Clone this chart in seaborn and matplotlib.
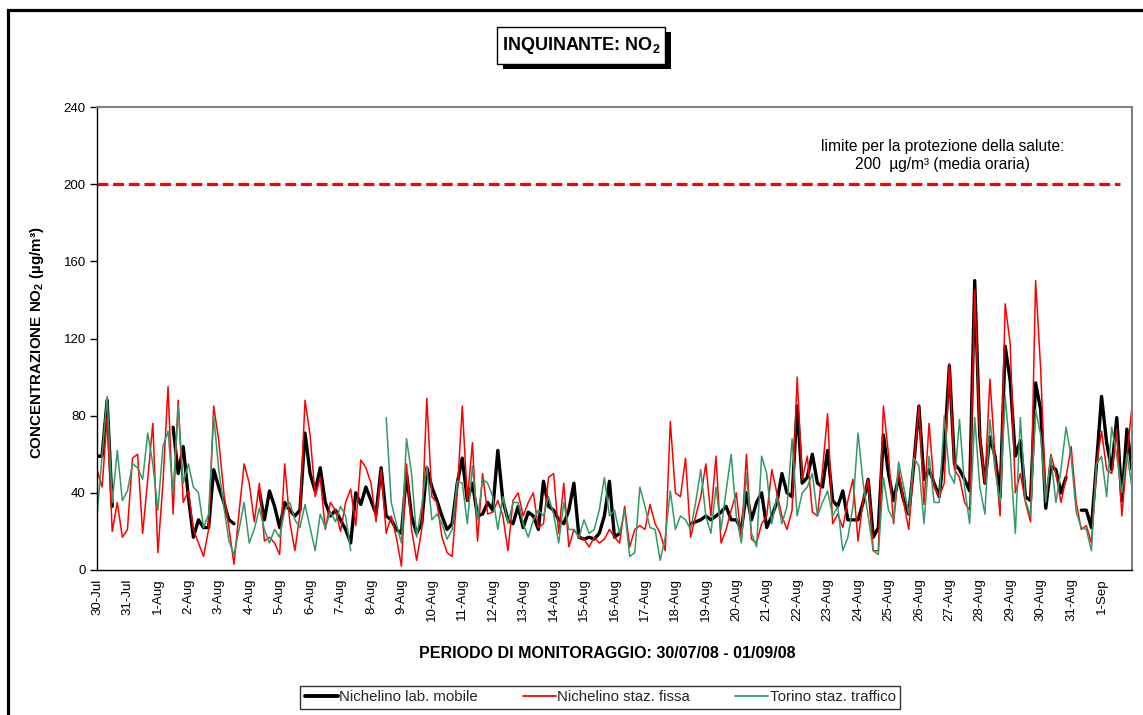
import numpy as np
import pandas as pd
import matplotlib
matplotlib.use("Agg")
import matplotlib.pyplot as plt
from matplotlib.lines import Line2D
from matplotlib.patches import Rectangle
import seaborn as sns

nan = np.nan

# ---------------------------------------------------------------------------
# data: NO2 hourly concentrations, every 4 hours
# (one row = one day, 00-04-08-12-16-20 h), nan = no data
# ---------------------------------------------------------------------------
day_labels = ["30-Jul", "31-Jul", "1-Aug", "2-Aug", "3-Aug", "4-Aug", "5-Aug",
              "6-Aug", "7-Aug", "8-Aug", "9-Aug", "10-Aug", "11-Aug", "12-Aug",
              "13-Aug", "14-Aug", "15-Aug", "16-Aug", "17-Aug", "18-Aug",
              "19-Aug", "20-Aug", "21-Aug", "22-Aug", "23-Aug", "24-Aug",
              "25-Aug", "26-Aug", "27-Aug", "28-Aug", "29-Aug", "30-Aug",
              "31-Aug", "1-Sep"]
step_hours = 4

lab_mobile = [
    59, 59, 88, 33, nan, nan,
    nan, nan, nan, nan, nan, nan,
    nan, nan, nan, 74, 50, 64,
    38, 17, 26, 22, 22, 52,
    43, 35, 26, 24, nan, nan,
    nan, nan, 41, 26, 41, 33,
    22, 35, 31, 28, 31, 71,
    50, 41, 53, 35, 28, 31,
    26, 21, 14, 40, 34, 43,
    36, 29, 53, 28, 26, 21,
    19, 50, 28, 19, 24, 53,
    43, 36, 28, 21, 24, 45,
    58, 36, 45, 28, 29, 35,
    31, 62, 36, 26, 24, 33,
    22, 30, 28, 21, 46, 33,
    31, 26, 24, 31, 45, 17,
    16, 17, 16, 19, 28, 46,
    17, 19, nan, nan, nan, nan,
    nan, nan, nan, nan, nan, nan,
    nan, nan, nan, 24, 25, 26,
    28, 26, 28, 30, 33, 26,
    26, 21, 40, 26, 35, 40,
    22, 28, 35, 50, 40, 38,
    85, 45, 48, 60, 45, 43,
    62, 36, 33, 41, 26, 26,
    26, 35, 47, 17, 22, 70,
    50, 36, 48, 36, 29, 55,
    85, 47, 52, 45, 38, 62,
    106, 55, 52, 47, 41, 150,
    69, 45, 69, 59, 38, 116,
    98, 59, 67, 38, 36, 97,
    83, 32, 54, 52, 40, 48,
    nan, nan, 31, 31, 22, 55,
    90, 66, 52, 79, 36, 73,
    52,
]

staz_fissa = [
    52, 43, 79, 20, 35, 17,
    21, 58, 60, 19, 47, 76,
    9, 45, 95, 29, 88, 35,
    41, 21, 14, 7, 21, 85,
    67, 40, 22, 3, 30, 55,
    45, 25, 45, 15, 17, 14,
    8, 55, 25, 10, 29, 88,
    70, 38, 48, 21, 35, 31,
    20, 35, 42, 23, 57, 53,
    45, 25, 52, 19, 28, 17,
    2, 55, 21, 5, 21, 89,
    38, 35, 17, 9, 7, 40,
    85, 36, 66, 15, 50, 29,
    30, 36, 28, 10, 36, 40,
    28, 35, 40, 22, 24, 48,
    50, 19, 45, 12, 21, 17,
    16, 12, 17, 14, 16, 21,
    17, 14, 33, 12, 21, 23,
    21, 34, 24, 19, 10, 77,
    40, 38, 58, 17, 28, 38,
    55, 28, 59, 14, 21, 31,
    40, 16, 60, 16, 14, 24,
    28, 52, 40, 28, 21, 31,
    100, 47, 59, 30, 28, 52,
    81, 24, 29, 22, 36, 47,
    15, 36, 47, 10, 10, 85,
    60, 24, 52, 35, 21, 55,
    85, 34, 76, 43, 38, 45,
    107, 52, 48, 35, 31, 145,
    69, 45, 99, 59, 28, 138,
    117, 40, 50, 35, 25, 150,
    104, 36, 60, 50, 35, 48,
    64, 35, 21, 23, 14, 55,
    72, 52, 50, 73, 28, 59,
    85,
]

torino_traffico = [
    28, 59, 90, 35, 62, 36,
    41, 55, 53, 47, 71, 55,
    31, 64, 72, 40, 85, 45,
    55, 43, 40, 22, 29, 80,
    52, 33, 15, 8, 21, 35,
    14, 21, 32, 21, 14, 21,
    17, 31, 35, 26, 22, 34,
    22, 10, 29, 22, 30, 25,
    33, 28, 10, nan, nan, nan,
    nan, nan, nan, 79, 35, 24,
    14, 68, 50, 17, 33, 54,
    26, 29, 24, 16, 21, 46,
    45, 24, 54, 26, 47, 45,
    38, 21, 38, 24, 35, 35,
    24, 17, 26, 31, 28, 38,
    29, 14, 35, 21, 21, 17,
    26, 19, 21, 31, 48, 28,
    31, 19, 31, 7, 9, 43,
    33, 22, 21, 5, 17, 41,
    21, 28, 26, 21, 35, 52,
    28, 19, 43, 21, 41, 60,
    28, 14, 50, 19, 12, 59,
    50, 24, 38, 24, 33, 68,
    28, 40, 43, 50, 28, 35,
    41, 28, 33, 10, 17, 33,
    71, 45, 28, 10, 8, 48,
    31, 26, 56, 43, 29, 58,
    54, 24, 59, 35, 35, 80,
    50, 45, 78, 43, 24, 79,
    43, 29, 78, 52, 35, 90,
    60, 19, 79, 36, 28, 83,
    70, 35, 59, 35, 52, 74,
    59, 30, 22, 21, 10, 55,
    59, 38, 74, 59, 40, 60,
    43,
]

series_names = ["Nichelino lab. mobile", "Nichelino staz. fissa", "Torino staz. traffico"]
series_values = [lab_mobile, staz_fissa, torino_traffico]
limit_value = 200

colors = {series_names[0]: "black", series_names[1]: "#FF0000", series_names[2]: "#339966"}
widths = {series_names[0]: 2.4, series_names[1]: 1.1, series_names[2]: 1.1}

# long table, gaps split into separate units so lines break at missing data
frames = []
for name, vals in zip(series_names, series_values):
    v = np.array(vals, dtype=float)
    d = pd.DataFrame({"day": np.arange(len(v)) * step_hours / 24.0,
                      "value": v,
                      "seg": np.cumsum(np.isnan(v)),
                      "series": name})
    frames.append(d.dropna(subset=["value"]))
df = pd.concat(frames, ignore_index=True)

# ---------------------------------------------------------------------------
sns.set_theme(style="white")
plt.rcParams["font.family"] = ["Liberation Sans", "DejaVu Sans"]
plt.rcParams["mathtext.fontset"] = "custom"
plt.rcParams["mathtext.rm"] = "Liberation Sans"
plt.rcParams["mathtext.bf"] = "Liberation Sans:bold"
plt.rcParams["mathtext.it"] = "Liberation Sans:italic"

W, H = 1143, 715
fig = plt.figure(figsize=(W / 100, H / 100), dpi=100)
fig.patch.set_facecolor("white")

ax = fig.add_axes([97 / W, 1 - 570 / H, (1132 - 97) / W, (570 - 107) / H])

sns.lineplot(data=df, x="day", y="value", hue="series", size="series",
             hue_order=series_names, size_order=series_names,
             palette=colors, sizes=widths, units="seg", estimator=None,
             legend=False, ax=ax)

# health limit line
ax.axhline(limit_value, xmin=0, xmax=(1120 - 97) / (1132 - 97), color="#FF0000",
           lw=2.3, ls=(0, (3.4, 1.5)), zorder=1)
ax.text(0.817, 0.895,
        "limite per la protezione della salute:\n200  µg/m³ (media oraria)",
        transform=ax.transAxes, ha="center", va="center", fontsize=11.2,
        linespacing=1.2, color="black")

ax.set_xlim(0, 34)
ax.set_ylim(0, 240)
ax.set_yticks(np.arange(0, 241, 40))
ax.set_xticks(np.arange(len(day_labels)))
ax.set_xticklabels(day_labels, rotation=90)
ax.tick_params(axis="x", length=0, pad=6, labelsize=9.5, colors="black")
ax.tick_params(axis="y", direction="out", length=5, width=1, pad=3,
               labelsize=9.5, colors="black", left=True)

ax.set_xlabel("PERIODO DI MONITORAGGIO: 30/07/08 - 01/09/08",
              fontsize=11.5, fontweight="bold", color="black")
ax.xaxis.set_label_coords(0.493, -0.164)
ax.set_ylabel(r"CONCENTRAZIONE NO$_\mathbf{2}$ (µg/m³)",
              fontsize=10.9, fontweight="bold", color="black")
ax.yaxis.set_label_coords(-0.049, 0.49)

for side in ["left", "bottom"]:
    ax.spines[side].set_color("black")
    ax.spines[side].set_linewidth(1.0)
for side in ["top", "right"]:
    ax.spines[side].set_color("#808080")
    ax.spines[side].set_linewidth(1.5)

# legend
handles = [Line2D([], [], color=colors[n], lw=widths[n] + (0.4 if i == 0 else 0.2))
           for i, n in enumerate(series_names)]
leg = fig.legend(handles, series_names, loc="center",
                 bbox_to_anchor=(600 / W, 1 - 697 / H), ncol=3, frameon=True,
                 fancybox=False, fontsize=10.8, handlelength=2.2,
                 handletextpad=0.1, columnspacing=3.0, borderpad=0.3)
leg.get_frame().set_edgecolor("black")
leg.get_frame().set_linewidth(1.0)

# title box with shadow
fig.add_artist(Rectangle((503 / W, 1 - 69 / H), 168 / W, 37 / H,
                         transform=fig.transFigure, fc="black", ec="black", lw=0))
fig.add_artist(Rectangle((497 / W, 1 - 64 / H), 168 / W, 37 / H,
                         transform=fig.transFigure, fc="white", ec="black", lw=1))
fig.text(581 / W, 1 - 45 / H, r"INQUINANTE: NO$_\mathbf{2}$", ha="center",
         va="center", fontsize=13, fontweight="bold", color="black")

# outer frame of the chart area
fig.add_artist(Rectangle((8 / W, -0.1), 1.2, 1 - 10 / H + 0.1,
                         transform=fig.transFigure, fill=False, ec="black", lw=2.3))

fig.savefig("out.png", dpi=100, facecolor="white")
